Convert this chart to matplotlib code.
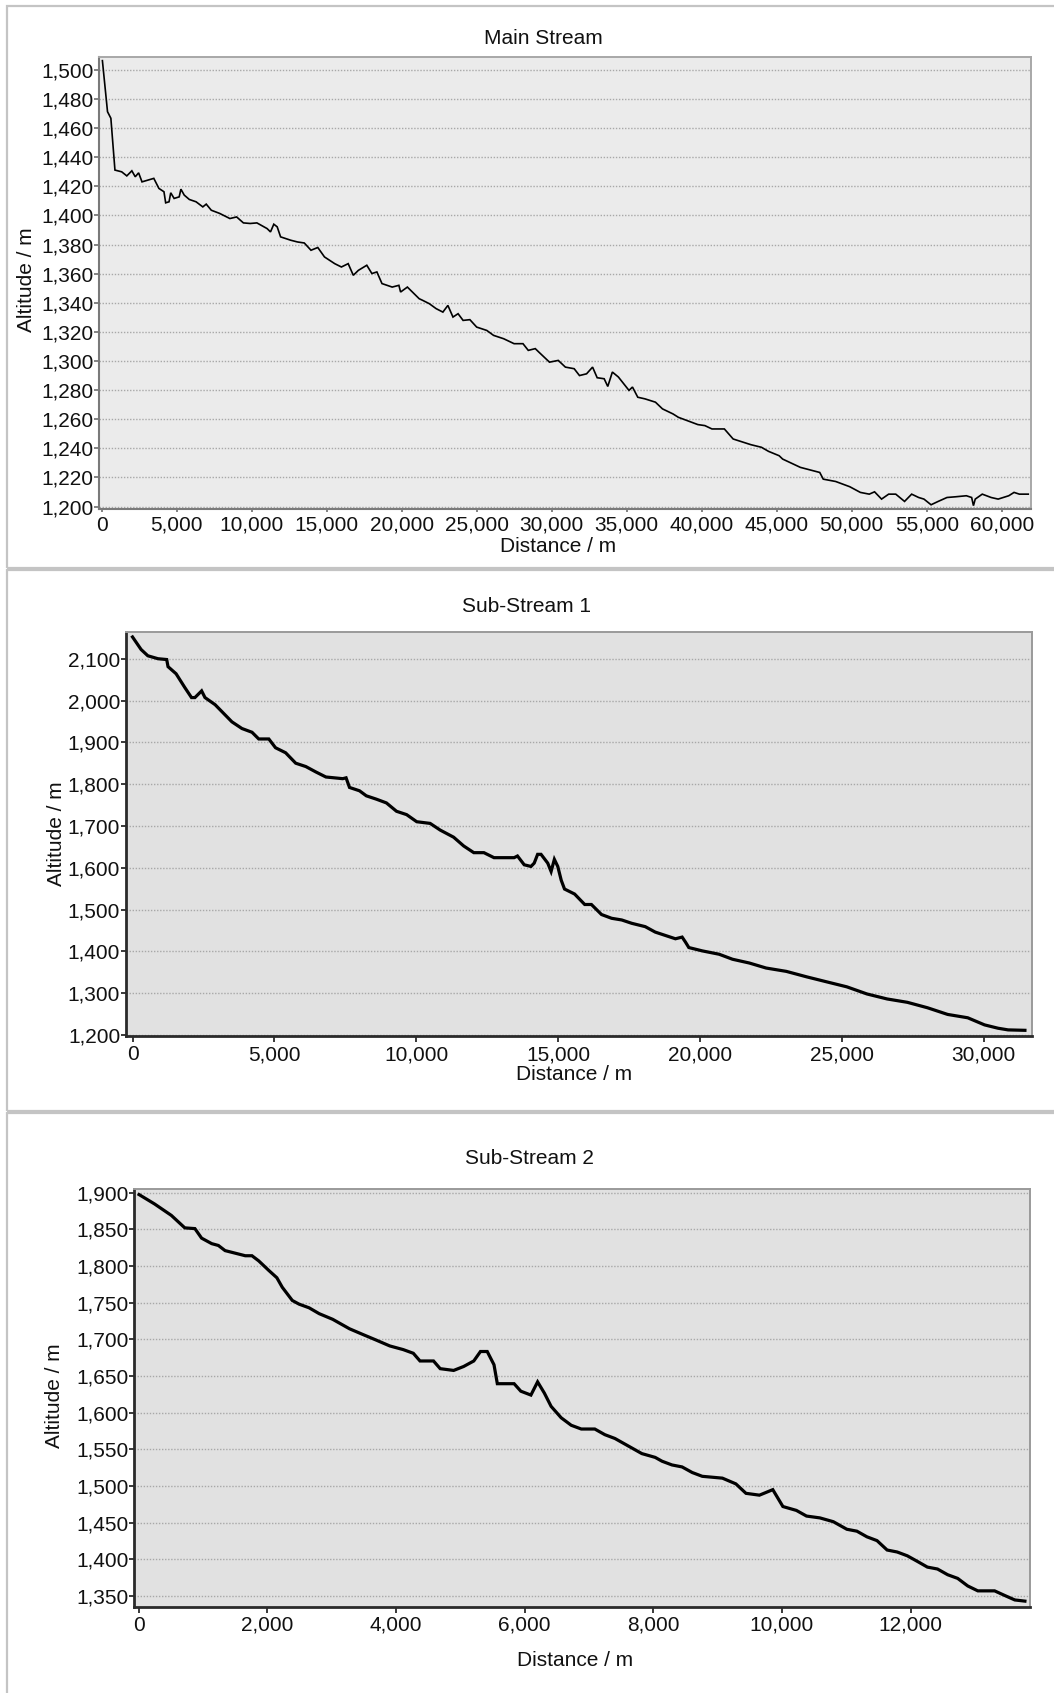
import matplotlib
matplotlib.use("Agg")
import matplotlib.pyplot as plt
from matplotlib.ticker import FuncFormatter, MultipleLocator
from matplotlib.patches import Rectangle

plt.rcParams['font.family'] = ['Liberation Sans', 'DejaVu Sans']

# ---------------- data ----------------
main_dist = [40, 381, 605, 876, 1327, 1667, 2003, 2230, 2455, 2680, 3467, 3807, 4145, 4258,
             4483, 4596, 4822, 5160, 5273, 5496, 5835, 6286, 6735, 6962, 7300, 7862, 8540,
             8989, 9441, 9893, 10341, 11020, 11247, 11467, 11693, 11920, 12593, 13047, 13500,
             13947, 14400, 14847, 15527, 15974, 16427, 16767, 17107, 17667, 18007, 18340,
             18680, 19360, 19807, 19920, 20373, 20707, 21160, 21387, 21833, 22287, 22740,
             23073, 23413, 23753, 24087, 24540, 24993, 25667, 26120, 26793, 27487, 28080,
             28433, 28900, 29140, 29847, 30433, 30907, 31493, 31847, 32320, 32720, 33027,
             33493, 33733, 34040, 34440, 34793, 35147, 35380, 35733, 36207, 36913, 37380,
             38087, 38440, 39033, 39740, 40207, 40680, 41507, 42093, 42800, 43273, 43980,
             44453, 45160, 45393, 45867, 46573, 47280, 47867, 48100, 48927, 49867, 50573,
             51167, 51520, 51987, 52460, 52933, 53520, 53993, 54460, 54813, 55287, 55760,
             56347, 56933, 57640, 57993, 58113, 58233, 58700, 59293, 59760, 60467, 60820,
             61173, 61767]
main_alt = [1506.4, 1471.3, 1466.8, 1431.2, 1430.0, 1427.2, 1430.7, 1426.6, 1429.3, 1423.1,
            1425.5, 1418.6, 1416.3, 1408.7, 1409.4, 1415.6, 1411.7, 1412.8, 1418.1, 1414.0,
            1411.0, 1409.4, 1405.9, 1407.8, 1403.6, 1401.4, 1397.9, 1399.0, 1394.9, 1394.5,
            1394.9, 1391.0, 1388.7, 1394.0, 1392.2, 1385.3, 1383.0, 1381.8, 1381.1, 1376.1,
            1378.0, 1371.5, 1366.9, 1364.6, 1366.9, 1358.9, 1362.3, 1365.8, 1360.1, 1361.2,
            1353.2, 1350.8, 1352.0, 1347.4, 1350.8, 1347.4, 1342.8, 1341.7, 1339.4, 1336.0,
            1333.6, 1338.2, 1330.2, 1332.5, 1327.9, 1328.4, 1323.3, 1321.0, 1317.6, 1315.3,
            1311.9, 1311.9, 1307.3, 1308.5, 1306.1, 1299.2, 1300.4, 1295.8, 1294.7, 1290.0,
            1291.2, 1295.8, 1288.5, 1287.8, 1282.5, 1292.4, 1289.0, 1284.4, 1279.8, 1282.1,
            1275.1, 1274.0, 1271.7, 1267.1, 1263.6, 1261.3, 1259.0, 1256.3, 1255.6, 1253.3,
            1253.3, 1246.4, 1244.1, 1242.5, 1240.7, 1237.9, 1234.9, 1232.6, 1230.3, 1226.9,
            1225.0, 1223.4, 1218.8, 1217.2, 1213.6, 1209.7, 1208.5, 1210.1, 1205.1, 1208.5,
            1208.5, 1203.5, 1208.5, 1206.2, 1205.1, 1201.2, 1203.5, 1206.2, 1206.7, 1207.4,
            1206.2, 1200.6, 1205.1, 1208.5, 1206.2, 1205.1, 1207.4, 1209.7, 1208.5, 1208.5]

sub1_dist = [0, 303, 540, 896, 1205, 1252, 1536, 1844, 2080, 2200, 2436, 2555, 2912, 3503,
             3857, 4213, 4449, 4805, 5041, 5397, 5753, 6109, 6465, 6817, 7410, 7528, 7649,
             8002, 8241, 8594, 8950, 9306, 9662, 10018, 10491, 10846, 11319, 11674, 12030,
             12386, 12742, 13452, 13570, 13807, 14045, 14160, 14280, 14400, 14636, 14755,
             14870, 14990, 15112, 15228, 15584, 15940, 16176, 16532, 16888, 17245, 17597,
             18073, 18425, 18780, 19137, 19374, 19492, 19610, 20085, 20678, 21150, 21742,
             22334, 23046, 23759, 24467, 25180, 25887, 26600, 27311, 28020, 28733, 29441,
             30033, 30509, 30865, 31457]
sub1_alt = [2152, 2122, 2107, 2100, 2098, 2081, 2064, 2031, 2007, 2007, 2023, 2007, 1990,
            1949, 1933, 1924, 1908, 1908, 1887, 1875, 1850, 1842, 1829, 1817, 1813, 1815,
            1792, 1784, 1772, 1764, 1755, 1735, 1727, 1710, 1706, 1690, 1673, 1652, 1636,
            1636, 1624, 1624, 1628, 1607, 1603, 1611, 1632, 1632, 1611, 1591, 1620, 1603,
            1570, 1549, 1537, 1512, 1512, 1488, 1479, 1475, 1467, 1459, 1446, 1438, 1430,
            1434, 1422, 1409, 1401, 1393, 1381, 1372, 1360, 1352, 1339, 1327, 1315, 1298,
            1286, 1278, 1265, 1249, 1241, 1224, 1216, 1212, 1211]

sub2_dist = [6, 247, 508, 717, 874, 978, 1135, 1239, 1343, 1500, 1657, 1761, 1866, 2022,
             2148, 2232, 2388, 2493, 2649, 2806, 3016, 3277, 3485, 3694, 3903, 4112, 4269,
             4373, 4583, 4687, 4896, 5052, 5209, 5313, 5418, 5523, 5575, 5836, 5940, 6097,
             6201, 6306, 6411, 6568, 6724, 6880, 7090, 7246, 7403, 7612, 7821, 8029, 8135,
             8290, 8447, 8604, 8761, 9074, 9283, 9440, 9649, 9857, 10014, 10224, 10381,
             10589, 10798, 11008, 11164, 11320, 11477, 11634, 11790, 11948, 12104, 12260,
             12417, 12575, 12731, 12887, 13044, 13305, 13462, 13619, 13776]
sub2_alt = [1897.4, 1884.6, 1869, 1852, 1851, 1838, 1830.5, 1828, 1821, 1817.5, 1814, 1814,
            1807, 1794, 1784, 1771, 1753, 1748, 1743, 1735, 1727.3, 1714.4, 1706.6, 1698.9,
            1691, 1686, 1681, 1670.5, 1670.5, 1660, 1657.6, 1663, 1670.5, 1683.4, 1683.4,
            1665.4, 1639.5, 1639.5, 1629.3, 1624, 1642, 1626.7, 1608.6, 1593, 1582.8,
            1577.7, 1577.7, 1570, 1564.8, 1554.5, 1544.2, 1539, 1533.8, 1528.7, 1526,
            1518.4, 1513.2, 1510.7, 1502.9, 1490, 1487.5, 1495, 1472, 1466.7, 1459, 1456.5,
            1451.3, 1441, 1438.4, 1430.7, 1425.5, 1412.7, 1410, 1404.8, 1397.2, 1389.4,
            1386.8, 1379, 1374, 1363.7, 1357, 1357, 1350.7, 1344.6, 1343]

titles = ["Main Stream", "Sub-Stream 1", "Sub-Stream 2"]
x_label = "Distance / m"
y_label = "Altitude / m"

# ---------------- figure ----------------
W, H = 1054, 1693
fig = plt.figure(figsize=(W / 100, H / 100), dpi=100)


def fx(px):
    return px / W


def fy(py):
    return 1 - py / H


def make_axes(l, t, r, b):
    return fig.add_axes([fx(l), fy(b), fx(r) - fx(l), (b - t) / H])


# panel frames
for (t, b) in [(6, 568), (570, 1111), (1113, 1700)]:
    fig.add_artist(Rectangle((fx(7), fy(b)), fx(1100) - fx(7), (b - t) / H,
                             transform=fig.transFigure, fill=False,
                             edgecolor='#c4c4c4', linewidth=1.6))

comma = FuncFormatter(lambda v, p: f"{v:,.0f}")

panels = [
    dict(rect=(99.4, 57.3, 1031, 508.7), x=main_dist, y=main_alt,
         xlim=(-160, 61950), ylim=(1198.5, 1508.7), xstep=5000, ystep=20,
         yticks=(1200, 1500), xticks=(0, 60000), bg='#ebebeb', lw=1.2,
         spine_dark='#7a7a7a', spine_light='#a8a8a8', spw=1.5, xtl=2.5,
         title=(543, 38.3), xl=(558, 546.7), yl=(27, 280)),
    dict(rect=(125.7, 631.7, 1032.3, 1036), x=sub1_dist, y=sub1_alt,
         xlim=(-240, 31717), ylim=(1197.4, 2164.6), xstep=5000, ystep=100,
         yticks=(1200, 2100), xticks=(0, 30000), bg='#e1e1e1', lw=2.3,
         spine_dark='#2a2a2a', spine_light='#9a9a9a', spw=2.0, xtl=4,
         title=(526, 606.5), xl=(574.3, 1075), yl=(57, 834)),
    dict(rect=(134.3, 1189.3, 1030, 1606.7), x=sub2_dist, y=sub2_alt,
         xlim=(-68, 13855), ylim=(1335.4, 1904.6), xstep=2000, ystep=50,
         yticks=(1350, 1900), xticks=(0, 12000), bg='#e1e1e1', lw=2.3,
         spine_dark='#2a2a2a', spine_light='#9a9a9a', spw=2.0, xtl=4,
         title=(529, 1158.6), xl=(574.7, 1660), yl=(54, 1396)),
]

for i, p in enumerate(panels):
    l, t, r, b = p['rect']
    ax = make_axes(l, t, r, b)
    ax.set_facecolor(p['bg'])
    ax.plot(p['x'], p['y'], color='black', linewidth=p['lw'], solid_joinstyle='miter')
    ax.set_xlim(*p['xlim'])
    ax.set_ylim(*p['ylim'])
    ax.set_yticks(range(p['yticks'][0], p['yticks'][1] + 1, p['ystep']))
    ax.set_xticks(range(p['xticks'][0], p['xticks'][1] + 1, p['xstep']))
    ax.xaxis.set_major_formatter(comma)
    ax.yaxis.set_major_formatter(comma)
    ax.grid(axis='y', linestyle=(0, (1, 1.2)), color='#a8a8a8', linewidth=1.0)
    ax.set_axisbelow(True)
    for s in ('left', 'bottom'):
        ax.spines[s].set_color(p['spine_dark'])
        ax.spines[s].set_linewidth(p['spw'])
    for s in ('top', 'right'):
        ax.spines[s].set_color(p['spine_light'])
        ax.spines[s].set_linewidth(1.4)
    ax.tick_params(axis='y', direction='out', length=3.5, width=1.3,
                   color=p['spine_dark'], pad=0.5, labelsize=15, labelcolor='#111111')
    ax.tick_params(axis='x', direction='out', length=p['xtl'], width=1.3,
                   color=p['spine_dark'], pad=2.5, labelsize=15, labelcolor='#111111')
    # texts
    fig.text(fx(p['title'][0]), fy(p['title'][1]), titles[i], ha='center', va='center',
             fontsize=15, color='#111111')
    fig.text(fx(p['xl'][0]), fy(p['xl'][1]), x_label, ha='center', va='center',
             fontsize=15, color='#111111')
    fig.text(fx(p['yl'][0]), fy(p['yl'][1]), y_label, ha='center', va='center',
             rotation=90, fontsize=15, color='#111111')

fig.savefig("out.png", dpi=100, facecolor='white')
